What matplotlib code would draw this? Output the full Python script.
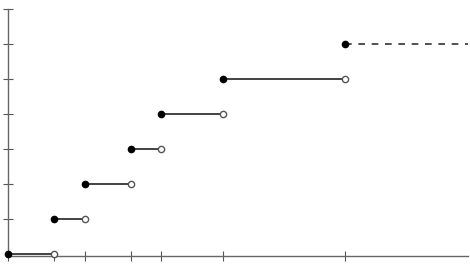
import numpy as np
import matplotlib.pyplot as plt

# Sprungstellen und Werte der Treppenfunktion
jumps = [0, 3, 5, 8, 10, 14, 22]
levels = [0, 1, 2, 3, 4, 5, 6]
x_end = 30
x_ticks = [0, 3, 5, 8, 10, 14, 22]
y_ticks = [1, 2, 3, 4, 5, 6, 7]

fig = plt.figure(figsize=(4.7, 2.69), dpi=100)
ax = fig.add_axes([8/470, 13/269, 460/470, 247/269])

for i in range(len(jumps) - 1):
    ax.plot([jumps[i], jumps[i+1]], [levels[i], levels[i]], color='#222222', lw=1.2, zorder=1)
    ax.plot(jumps[i], levels[i], 'o', ms=4.5, color='black', zorder=3)
    ax.plot(jumps[i+1], levels[i], 'o', ms=4.5, mfc='white', mec='#555555', mew=1, zorder=3)

# letzte Stufe gestrichelt
ax.plot([jumps[-1], x_end], [levels[-1], levels[-1]], '--', color='#333333', lw=1.2, dashes=(4, 4), zorder=1)
ax.plot(jumps[-1], levels[-1], 'o', ms=4.5, color='black', zorder=3)

ax.set_xlim(0, x_end)
ax.set_ylim(-0.06, 7)
ax.set_xticks(x_ticks)
ax.set_yticks(y_ticks)
ax.set_xticklabels([])
ax.set_yticklabels([])
ax.tick_params(direction='inout', length=7, width=0.8, color='#555555')
for s in ['top', 'right']:
    ax.spines[s].set_visible(False)
for s in ['left', 'bottom']:
    ax.spines[s].set_color('#666666')
    ax.spines[s].set_linewidth(1.0)
for line in ax.lines:
    line.set_clip_on(False)

fig.savefig('out.png', dpi=100)
